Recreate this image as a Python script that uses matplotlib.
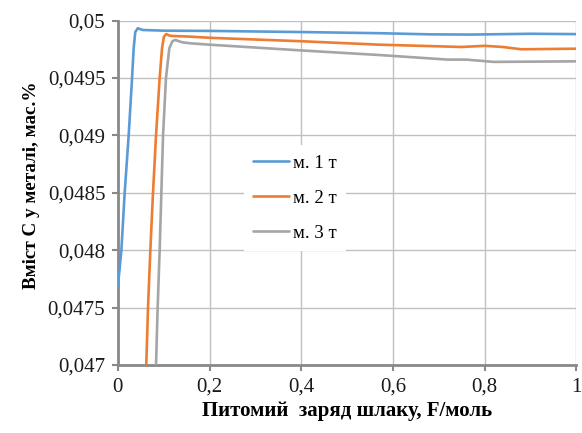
import matplotlib
matplotlib.use("Agg")
import matplotlib.pyplot as plt
from matplotlib.ticker import FixedLocator, FuncFormatter

# Specific slag charge, F/mol
x_m1 = [0.0, 0.0077, 0.0149, 0.0236, 0.031, 0.0345, 0.038, 0.0435, 0.049, 0.054, 0.1,
        0.2, 0.4, 0.57, 0.68, 0.77, 0.9, 1.0]
c_m1 = [0.047682, 0.04800, 0.04850, 0.04900, 0.04950, 0.049759, 0.04990, 0.049933, 0.049925,
        0.049918, 0.049912, 0.04991, 0.04990, 0.04989, 0.04988, 0.049878, 0.049885, 0.049882]

x_m2 = [0.0605, 0.062, 0.0658, 0.0709, 0.0767, 0.0833, 0.0912, 0.0964, 0.1005, 0.1058,
        0.112, 0.118, 0.158, 0.2, 0.4, 0.57, 0.75, 0.8, 0.84, 0.88, 1.0]
c_m2 = [0.04680, 0.04700, 0.04750, 0.04800, 0.04850, 0.04900, 0.04950, 0.049759, 0.04986,
        0.049883, 0.04987, 0.049866, 0.04986, 0.04985, 0.04982, 0.04979, 0.04977, 0.04978,
        0.04977, 0.04975, 0.049755]

x_m3 = [0.0819, 0.0833, 0.0868, 0.0912, 0.0949, 0.0986, 0.105, 0.1123, 0.119, 0.1254,
        0.14, 0.158, 0.2, 0.4, 0.57, 0.72, 0.76, 0.82, 1.0]
c_m3 = [0.04680, 0.04700, 0.04750, 0.04800, 0.04850, 0.04900, 0.04950, 0.049759, 0.04982,
        0.049831, 0.049811, 0.049802, 0.04979, 0.04974, 0.04970, 0.04966, 0.04966, 0.04964,
        0.049645]

series_labels = ["м. 1 т", "м. 2 т", "м. 3 т"]
x_ticks = [0, 0.2, 0.4, 0.6, 0.8, 1.0]
y_ticks = [0.047, 0.0475, 0.048, 0.0485, 0.049, 0.0495, 0.05]
x_label = "Питомий  заряд шлаку, F/моль"
y_label = "Вміст С у металі, мас.%"

colors = ["#5B9BD5", "#ED7D31", "#A5A5A5"]
axis_grey = "#898989"
grid_grey = "#C0C0C0"
serif = ["Liberation Serif", "DejaVu Serif"]

plt.rcParams["font.family"] = serif

fig = plt.figure(figsize=(5.82, 4.33), dpi=100)
ax = fig.add_axes([0.2025, 0.157, 0.7875, 0.7955])

for xs, ys, col, lab in zip([x_m1, x_m2, x_m3], [c_m1, c_m2, c_m3], colors, series_labels):
    ax.plot(xs, ys, color=col, lw=1.9, label=lab, solid_capstyle="round", zorder=3)

ax.set_xlim(0, 1)
ax.set_ylim(0.047, 0.05)
ax.xaxis.set_major_locator(FixedLocator(x_ticks))
ax.yaxis.set_major_locator(FixedLocator(y_ticks))


def comma_fmt(v, pos):
    s = ("%.4f" % v).rstrip("0").rstrip(".")
    return s.replace(".", ",")


ax.xaxis.set_major_formatter(FuncFormatter(comma_fmt))
ax.yaxis.set_major_formatter(FuncFormatter(comma_fmt))

ax.grid(True, color=grid_grey, lw=1.0, zorder=0)
ax.set_axisbelow(True)
for side in ["top", "right"]:
    ax.spines[side].set_visible(False)
for side in ["left", "bottom"]:
    ax.spines[side].set_color(axis_grey)
    ax.spines[side].set_linewidth(2.0)
ax.tick_params(axis="both", which="major", direction="out", length=4, width=1.5,
               color=axis_grey, labelsize=15, labelcolor="#1a1a1a", pad=5)
for lbl in ax.get_xticklabels() + ax.get_yticklabels():
    lbl.set_fontfamily(serif)

ax.set_xlabel(x_label, fontsize=15, fontweight="bold", labelpad=3, family=serif)
ax.set_ylabel(y_label, fontsize=13.8, fontweight="bold", family=serif)
ax.yaxis.set_label_coords(-0.17, 0.523)

leg = ax.legend(loc="upper left", bbox_to_anchor=(0.255, 0.665), frameon=True,
                prop={"family": serif, "size": 13.5}, handlelength=1.9,
                handletextpad=0.2, labelspacing=0.95, borderpad=0.5, framealpha=1.0,
                edgecolor="white", fancybox=False)
leg.get_frame().set_linewidth(0)

fig.savefig("out.png", dpi=100, facecolor="white")
